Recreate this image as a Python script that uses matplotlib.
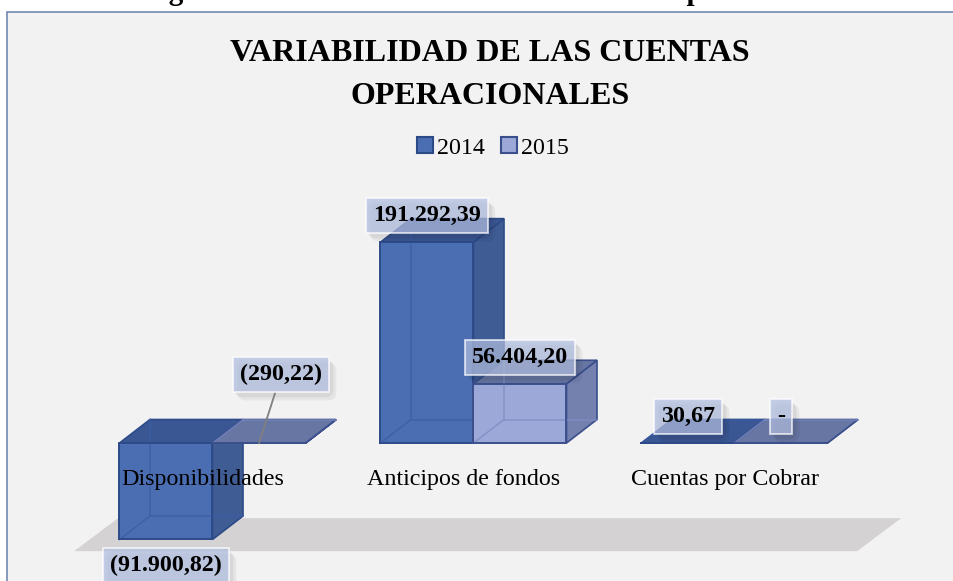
import matplotlib
matplotlib.use('Agg')
import matplotlib.pyplot as plt
from matplotlib.patches import Polygon, Rectangle, Patch
from matplotlib.transforms import ScaledTranslation

plt.rcParams['font.family'] = ['Liberation Serif', 'DejaVu Serif']

# data
categories = ['Disponibilidades', 'Anticipos de fondos', 'Cuentas por Cobrar']
years = ['2014', '2015']
values_2014 = [-91900.82, 191292.39, 30.67]
values_2015 = [-290.22, 56404.20, 0.0]
title = 'VARIABILIDAD DE LAS CUENTAS\nOPERACIONALES'
caption = 'Figura No. 16: Variabilidad de las cuentas operacionales'

# colours per series
colors = {
    '2014': dict(front='#4B6EB2', top='#3B5793', side='#405C95', edge='#2D4A88', inner='#3A5DA6'),
    '2015': dict(front='#9BA8D8', top='#6776A3', side='#7480AE', edge='#3A4F8C', inner='#7F8DC4'),
}

# pixel geometry of the picture
W, H, DPI = 954, 581, 100
ZERO_PX = 443          # y of value 0, from top
PX_PER_UNIT = 1.05 / 1000
GROUP_PX = 261
FIRST_PX = 212.5


def px_x(p):
    return p / GROUP_PX


def px_y(p):
    return p / PX_PER_UNIT


BAR_W = px_x(93)
DX, DY = px_x(30.5), px_y(23.5)


def fmt(v):
    if v == 0:
        return '-'
    s = f"{abs(v):,.2f}".replace(',', 'X').replace('.', ',').replace('X', '.')
    return f"({s})" if v < 0 else s


fig = plt.figure(figsize=(W / DPI, H / DPI), dpi=DPI)
fig.patch.set_facecolor('white')
fig.add_artist(Rectangle((7 / W, -0.1), 1.2, 1 - 12 / H + 0.1, transform=fig.transFigure,
                         fc='#F2F2F2', ec='#7189B0', lw=1.2, zorder=0))

ax = fig.add_axes([0, 0, 1, 1])
ax.set_axis_off()
ax.patch.set_alpha(0)
ax.set_xlim(-FIRST_PX / GROUP_PX, (W - FIRST_PX) / GROUP_PX)
ax.set_ylim(-(H - ZERO_PX) / PX_PER_UNIT, ZERO_PX / PX_PER_UNIT)

# floor
fy = -103000
fx0, fx1 = -0.53, 2.47
fdx, fdy = px_x(44), px_y(33)
ax.add_patch(Polygon([(fx0, fy), (fx1, fy), (fx1 + fdx, fy + fdy), (fx0 + fdx, fy + fdy)],
                     closed=True, fc='#D4D2D3', ec='none', zorder=1))


def draw_box(x0, x1, v, c, z):
    lo, hi = min(0, v), max(0, v)
    faces = [
        ([(x1, lo), (x1 + DX, lo + DY), (x1 + DX, hi + DY), (x1, hi)], c['side']),
        ([(x0, hi), (x1, hi), (x1 + DX, hi + DY), (x0 + DX, hi + DY)], c['top']),
        ([(x0, lo), (x1, lo), (x1, hi), (x0, hi)], c['front']),
    ]
    for pts, fc in faces:
        ax.add_patch(Polygon(pts, closed=True, fc=fc, ec=c['edge'], lw=1.2, zorder=z))
    # back edges seen through the glassy faces
    bx, by = x0 + DX, lo + DY
    ax.plot([x0, bx, bx], [lo, by, hi + DY], color=c['inner'], lw=1.1, alpha=0.8,
            zorder=z + 0.1)
    ax.plot([bx, x1 + DX], [by, by], color=c['inner'], lw=1.1, alpha=0.8, zorder=z + 0.1)
    # redraw visible outer edges on top
    ax.plot([x0, x1, x1, x0, x0], [lo, lo, hi, hi, lo], color=c['edge'], lw=1.2, zorder=z + 0.2)


label_style = dict(ha='center', va='center', fontsize=17.3, fontweight='bold', color='black')
box = dict(boxstyle='square,pad=0.3', fc='#B2BFE1', ec='white', lw=1.3, alpha=0.72)
shadows = []
for off, a in [((3, -4), 0.06), ((6, -7), 0.05)]:
    shadows.append((ax.transData + ScaledTranslation(off[0] / DPI, off[1] / DPI, fig.dpi_scale_trans),
                    dict(boxstyle='round,pad=0.35', fc='black', ec='none', alpha=a)))

# label shifts in px (right, up) for labels moved away from their bar
label_shift = {('2015', 0): (22, 42)}

series = {'2014': values_2014, '2015': values_2015}
z = 2
for i in range(len(categories)):
    for k, yr in enumerate(years):
        v = series[yr][i]
        x0 = i - BAR_W + k * BAR_W
        draw_box(x0, x0 + BAR_W, v, colors[yr], z)
        z += 1

for i in range(len(categories)):
    for k, yr in enumerate(years):
        v = series[yr][i]
        cx = i - BAR_W / 2 + k * BAR_W
        if v < 0 and abs(v) > 1000:
            ly = v - px_y(26)
        else:
            ly = max(v, 0) + DY + px_y(3)
        sx, sy = label_shift.get((yr, i), (0, 0))
        lx, ly = cx + px_x(sx), ly + px_y(sy)
        for tr, sb in shadows:
            ax.text(lx, ly, fmt(v), transform=tr, bbox=sb,
                    zorder=19, **{**label_style, 'color': (0, 0, 0, 0)})
        if (yr, i) in label_shift:
            ax.annotate(fmt(v), xy=(cx, v), xytext=(lx, ly), bbox=box, zorder=20,
                        arrowprops=dict(arrowstyle='-', color='#7F7F7F', lw=1.3,
                                        shrinkA=0, shrinkB=0), **label_style)
        else:
            ax.text(lx, ly, fmt(v), bbox=box, zorder=20, **label_style)

# category labels
for i, cat in enumerate(categories):
    ax.text(i - px_x(9.5), -px_y(36), cat, ha='center', va='center', fontsize=17.3,
            color='black', zorder=25)

# title, legend, caption
fig.text(490 / W, 1 - 75 / H, title, ha='center', va='center', fontsize=23,
         fontweight='bold', linespacing=1.66)
handles = [Patch(fc=colors[yr]['front'], ec=colors[yr]['edge'], lw=1.5) for yr in years]
fig.legend(handles, years, loc='center', bbox_to_anchor=(493 / W, 1 - 148 / H), ncol=2,
           frameon=False, fontsize=17.3, handlelength=0.65, handleheight=0.65,
           handletextpad=0.15, columnspacing=0.7)
fig.text(492 / W, 1 - 0.5 / H, caption, ha='center', va='baseline', fontsize=21,
         fontweight='bold')

fig.savefig('out.png', dpi=DPI)
